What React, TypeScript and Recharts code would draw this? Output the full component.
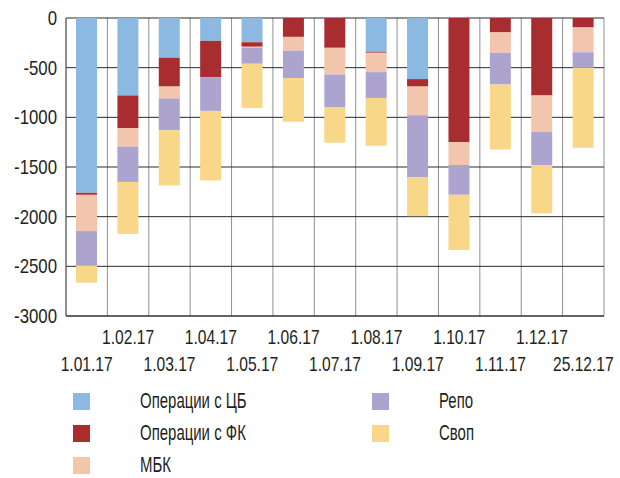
import { Bar, BarChart, CartesianGrid, XAxis, YAxis } from "recharts";

const dates = [
  "1.01.17", "1.02.17", "1.03.17", "1.04.17", "1.05.17", "1.06.17", "1.07.17",
  "1.08.17", "1.09.17", "1.10.17", "1.11.17", "1.12.17", "25.12.17",
];
const cbOps = [-1760, -780, -400, -230, -245, 0, 0, -340, -615, 0, 0, 0, 0];
const fkOps = [-20, -330, -290, -365, -45, -190, -300, -10, -75, -1250, -145, -780, -95];
const mbk = [-365, -185, -120, 0, -10, -140, -270, -195, -290, -230, -205, -365, -250];
const repo = [-350, -355, -320, -340, -160, -275, -330, -260, -625, -300, -320, -335, -155];
const swap = [-170, -525, -555, -700, -445, -440, -355, -480, -390, -555, -655, -485, -805];
const yTicks = [0, -500, -1000, -1500, -2000, -2500, -3000];

const series = [
  { key: "cb", name: "Операции с ЦБ", color: "#8bb9e2" },
  { key: "fk", name: "Операции с ФК", color: "#a92d30" },
  { key: "mbk", name: "МБК", color: "#f2c5ad" },
  { key: "repo", name: "Репо", color: "#aca4cf" },
  { key: "swap", name: "Своп", color: "#f9d789" },
];

const data = dates.map((date, i) => ({
  date,
  cb: cbOps[i],
  fk: fkOps[i],
  mbk: mbk[i],
  repo: repo[i],
  swap: swap[i],
}));

// no condensed font installed, so squeeze Liberation Sans horizontally
const FONT = '"Liberation Sans", Arial, sans-serif';
const TEXT = "#231f20";

function DateTick(props: any) {
  const { x, y, payload } = props;
  const row = payload.index % 2 === 1 ? 0 : 1;
  return (
    <text
      transform={`translate(${x},${y + 28 + row * 27}) scale(0.78,1)`}
      textAnchor="middle"
      fill={TEXT}
      fontSize={20}
      fontFamily={FONT}
    >
      {payload.value}
    </text>
  );
}

function ValueTick(props: any) {
  const { x, y, payload } = props;
  return (
    <text
      transform={`translate(${x},${y + 7}) scale(0.84,1)`}
      textAnchor="end"
      fill={TEXT}
      fontSize={20}
      fontFamily={FONT}
    >
      {payload.value}
    </text>
  );
}

function LegendItem({ x, y, color, label }: { x: number; y: number; color: string; label: string }) {
  return (
    <>
      <div
        style={{ position: "absolute", left: x, top: y, width: 17, height: 17, background: color }}
      />
      <div
        style={{
          position: "absolute",
          left: x + 67,
          top: y - 5,
          fontFamily: FONT,
          fontSize: 22,
          color: TEXT,
          lineHeight: "26px",
          whiteSpace: "nowrap",
          transform: "scaleX(0.68)",
          transformOrigin: "0 0",
        }}
      >
        {label}
      </div>
    </>
  );
}

export default function App() {
  const legendPos = [
    { x: 73, y: 393 },
    { x: 73, y: 425 },
    { x: 73, y: 457 },
    { x: 372, y: 393 },
    { x: 372, y: 425 },
  ];
  return (
    <div style={{ position: "fixed", left: 0, top: 0, width: 620, height: 478, background: "#fff" }}>
      <BarChart
        width={620}
        height={478}
        data={data}
        stackOffset="sign"
        margin={{ top: 18, right: 16, left: 0, bottom: 0 }}
        barSize={21}
        accessibilityLayer={false}
      >
        <CartesianGrid
          stroke="#333"
          horizontal={false}
          verticalCoordinatesGenerator={({ offset }: any) =>
            dates.map((_, i) => offset.left + (offset.width * i) / dates.length).concat(offset.left + offset.width)
          }
          syncWithTicks={false}
          strokeOpacity={0.55}
        />
        <CartesianGrid stroke="#2a2a2a" vertical={false} />
        <XAxis
          dataKey="date"
          height={162}
          interval={0}
          tickLine={false}
          tickSize={0}
          tickMargin={0}
          axisLine={{ stroke: "#333" }}
          tick={<DateTick />}
        />
        <YAxis
          type="number"
          domain={[-3000, 0]}
          ticks={yTicks}
          width={66}
          tickLine={false}
          tickSize={0}
          tickMargin={9}
          axisLine={{ stroke: "#555" }}
          tick={<ValueTick />}
        />
        {series.map((s) => (
          <Bar
            key={s.key}
            dataKey={s.key}
            name={s.name}
            stackId="a"
            fill={s.color}
            isAnimationActive={false}
          />
        ))}
      </BarChart>
      {series.map((s, i) => (
        <LegendItem key={s.key} x={legendPos[i].x} y={legendPos[i].y} color={s.color} label={s.name} />
      ))}
    </div>
  );
}
